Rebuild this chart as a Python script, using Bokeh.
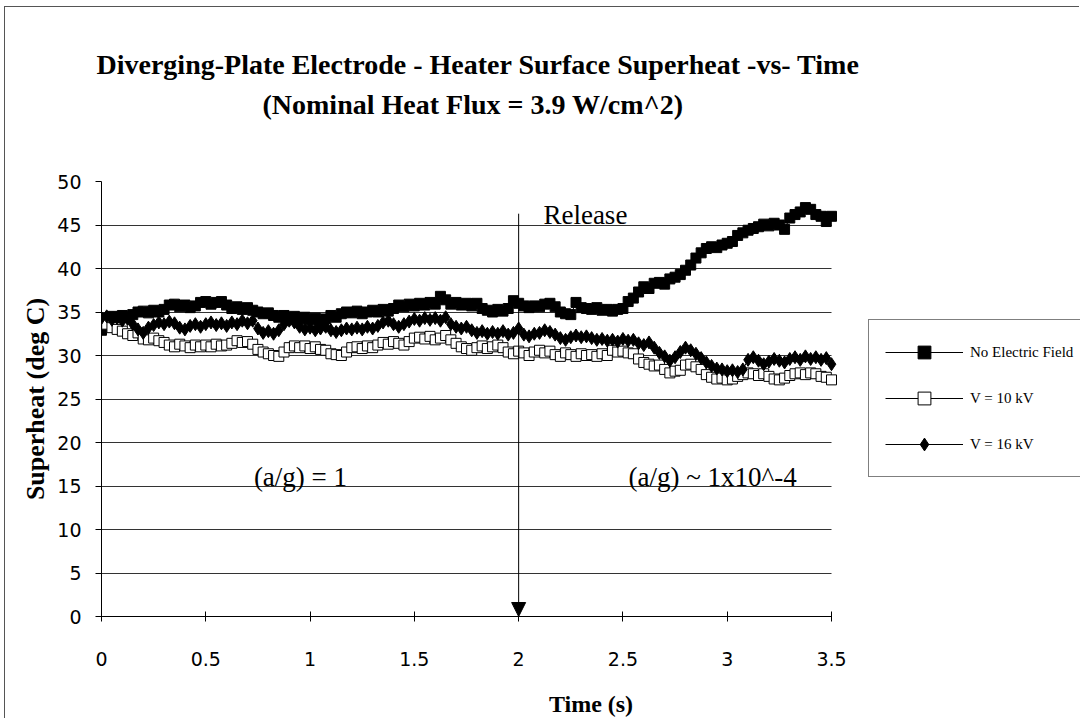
from bokeh.plotting import figure
from bokeh.models import Legend, LegendItem, Label, Title, Arrow, NormalHead, FixedTicker, Range1d
from bokeh.embed import file_html
from bokeh.resources import INLINE

# ---------------- data ----------------
title_line1 = "Diverging-Plate Electrode - Heater Surface Superheat -vs- Time"
title_line2 = "(Nominal Heat Flux = 3.9 W/cm^2)"
x_label = "Time (s)"
y_label = "Superheat (deg C)"
series_names = ["No Electric Field", "V = 10 kV", "V = 16 kV"]
time_step = 0.025

no_field = [
    32.9, 34.3, 34.5, 34.4, 34.6, 34.4, 34.7, 35.0, 35.1, 34.9,
    35.2, 35.0, 35.3, 35.8, 35.9, 35.6, 35.8, 35.5, 35.7, 36.1,
    36.2, 35.9, 36.1, 36.2, 35.8, 35.4, 35.6, 35.3, 35.5, 35.2,
    35.0, 34.8, 34.9, 34.6, 34.4, 34.6, 34.3, 34.5, 34.2, 34.4,
    34.1, 34.3, 33.9, 34.2, 34.6, 34.4, 34.8, 35.0, 34.9, 35.1,
    34.8, 35.0, 35.2, 35.0, 35.3, 35.1, 35.4, 35.8, 35.6, 35.9,
    35.7, 36.0, 35.8, 36.1, 35.9, 36.8, 36.4, 35.9, 36.1, 35.8,
    36.0, 35.7, 36.0, 35.4, 35.2, 35.0, 35.3, 35.1, 35.4, 36.3,
    36.0, 35.7, 35.5, 35.7, 35.6, 35.9, 36.0, 35.6, 35.0, 34.8,
    34.7, 36.1, 35.5, 35.4, 35.3, 35.5, 35.2, 35.3, 35.1, 35.3,
    35.4, 36.2, 36.6, 37.3, 37.9, 37.7, 38.3, 38.4, 38.2, 38.8,
    39.0, 39.3, 39.8, 40.4, 41.2, 41.8, 42.3, 42.5, 42.4, 42.7,
    42.9, 43.1, 43.8, 44.1, 44.4, 44.6, 44.8, 45.1, 44.9, 45.2,
    45.0, 44.5, 45.8, 46.2, 46.5, 47.0, 46.8, 46.2, 46.0, 45.4,
    46.0,
]

v10 = [
    34.0, 33.6, 33.2, 33.0, 32.8, 32.5, 32.3, 32.6, 31.9, 31.8,
    32.0, 31.7, 31.5, 31.2, 31.0, 31.3, 31.1, 30.9, 31.2, 31.0,
    31.2, 31.0, 31.3, 31.1, 31.2, 31.4, 31.7, 31.5, 31.6, 31.3,
    30.7, 30.4, 30.2, 30.0, 29.9, 30.4, 30.9, 31.1, 30.9, 31.1,
    30.8, 31.0, 30.7, 30.6, 30.2, 30.1, 30.0, 30.4, 30.9, 31.0,
    30.8, 31.1, 30.9, 31.2, 31.5, 31.3, 31.6, 31.4, 31.2, 31.6,
    32.0, 32.1, 31.9, 32.2, 31.8, 32.0, 32.3, 31.8, 31.4, 31.0,
    30.8, 30.6, 30.9, 31.1, 30.8, 31.0, 31.2, 30.9, 30.4, 30.2,
    30.5, 30.3, 30.0, 30.4, 30.6, 30.3, 30.5, 30.1, 29.9, 30.3,
    30.1, 29.9, 30.2, 30.0, 30.1, 29.9, 30.2, 30.0, 30.6, 30.4,
    30.5, 30.3, 30.2, 29.6, 29.2, 29.0, 28.8, 28.9, 28.4, 28.0,
    28.2, 28.3, 28.9, 29.0, 28.7, 28.4, 27.8, 27.5, 27.3, 27.4,
    27.2, 27.3, 27.6, 27.8, 28.0, 27.9, 27.7, 27.9, 27.6, 27.3,
    27.2, 27.4, 27.7, 27.9, 28.0, 27.8, 28.0, 27.9, 27.6, 27.5,
    27.2,
]

v16 = [
    34.3, 34.5, 34.1, 34.3, 34.0, 34.2, 33.6, 33.0, 32.6, 33.2,
    33.5, 33.8, 33.6, 33.9, 33.7, 33.2, 33.0, 33.4, 33.6, 33.3,
    33.6, 33.8, 33.5, 33.7, 33.4, 33.8, 33.6, 34.0, 33.7, 34.0,
    33.1, 32.6, 32.8, 32.5, 32.9, 33.6, 34.0, 33.8, 33.3, 33.0,
    33.2, 32.9, 33.1, 33.3, 32.9, 32.7, 32.9, 33.1, 33.0, 33.2,
    33.0, 33.3, 33.1, 33.4, 33.8, 34.0, 33.6, 33.3, 33.6, 33.9,
    34.2, 34.0, 34.3, 34.1, 34.3, 34.0, 34.4, 33.6, 33.3, 33.1,
    33.3, 32.9, 32.6, 32.8, 32.5, 32.7, 32.5, 32.8, 32.4, 32.6,
    33.1, 32.4, 32.2, 32.5, 32.6, 32.9, 32.7, 32.4, 32.0, 31.8,
    32.1, 32.3, 32.1, 32.2, 32.0, 31.8, 31.9, 31.7, 31.8, 31.6,
    31.9, 31.7, 31.8, 31.4, 31.2, 31.5, 30.9, 30.3, 29.9, 29.4,
    29.8, 30.4, 30.9, 30.6, 30.2, 29.7, 29.2, 28.8, 28.5, 28.4,
    28.2, 28.3, 28.1, 28.4, 29.5, 29.8, 29.4, 29.0, 29.3, 29.6,
    29.4, 29.2, 29.6, 29.8, 29.5, 29.9, 29.6, 29.8, 29.5, 29.7,
    29.0,
]

x_ticks = [0, 0.5, 1, 1.5, 2, 2.5, 3, 3.5]
x_tick_labels = ["0", "0.5", "1", "1.5", "2", "2.5", "3", "3.5"]
y_ticks = [0, 5, 10, 15, 20, 25, 30, 35, 40, 45, 50]
x_axis_max = 3.5
y_axis_max = 50

release_time = 2.0
release_arrow_top = 46.3
notes = [
    ("Release", 2.32, 46.2),
    ("(a/g) = 1", 0.954, 16.0),
    ("(a/g) ~ 1x10^-4", 2.93, 16.0),
]

times = [round(i * time_step, 3) for i in range(len(no_field))]

# ---------------- layout (pixels) ----------------
W, H = 1075, 712
LEFT, TOP, BOTTOM = 96, 174, 103
AXIS_PX = 730                 # pixel length of the 0..3.5 time axis
FRAME_W = W - LEFT            # frame spans to the right edge (legend lives in it)
x_view_max = x_axis_max * FRAME_W / AXIS_PX

SERIF = "Liberation Serif"
SANS = "DejaVu Sans"

p = figure(
    width=W, height=H,
    x_range=Range1d(0, x_view_max), y_range=Range1d(0, y_axis_max),
    output_backend="svg", toolbar_location=None,
    min_border_left=LEFT, min_border_right=0,
    min_border_top=TOP, min_border_bottom=BOTTOM,
    margin=(6, 0, 0, 4),
    background_fill_color="white", border_fill_color="white",
    styles={"border-left": "1px solid #555", "border-top": "1px solid #555"},
)
p.outline_line_color = None

# titles: a spacer next to the plot, then line 2, then line 1 above it
p.add_layout(Title(text=" ", text_font_size="1px", standoff=59), "above")
p.add_layout(Title(text=title_line2, align="left", offset=161, text_font=SERIF,
                   text_font_size="28px", text_font_style="bold",
                   text_color="black", standoff=0), "above")
p.add_layout(Title(text=title_line1, align="left", offset=-5, text_font=SERIF,
                   text_font_size="28px", text_font_style="bold",
                   text_color="black", standoff=14), "above")

# axes
p.xaxis.ticker = FixedTicker(ticks=x_ticks)
p.xaxis.major_label_overrides = {t: l for t, l in zip(x_ticks, x_tick_labels)}
p.xaxis.bounds = (0, x_axis_max)
p.yaxis.ticker = FixedTicker(ticks=y_ticks)
p.xaxis.minor_tick_line_color = None
p.yaxis.minor_tick_line_color = None
p.xaxis.major_tick_in = 5
p.xaxis.major_tick_out = 5
p.yaxis.major_tick_in = 0
p.yaxis.major_tick_out = 6
for ax in (p.xaxis, p.yaxis):
    ax.axis_line_color = "black"
    ax.major_tick_line_color = "black"
    ax.major_label_text_font = SANS
    ax.major_label_text_font_size = "19px"
    ax.major_label_text_color = "black"
    ax.axis_label_text_font = SERIF
    ax.axis_label_text_font_style = "bold"
    ax.axis_label_text_color = "black"
p.xaxis.axis_label_text_font_size = "24px"
p.yaxis.axis_label_text_font_size = "26px"
p.xaxis.major_label_standoff = 30
p.yaxis.major_label_standoff = 14
p.xaxis.axis_label = x_label
p.yaxis.axis_label = y_label
p.xaxis.axis_label_standoff = 22
p.yaxis.axis_label_standoff = 4

p.xgrid.grid_line_color = None
p.ygrid.grid_line_color = "#333333"
p.ygrid.grid_line_width = 1
for g in p.ygrid:
    if "cross_bounds" in g.properties():
        g.cross_bounds = (0, x_axis_max)

# series
l1 = p.line(times, no_field, line_color="black", line_width=1)
s1 = p.scatter(times, no_field, marker="square", size=10,
               fill_color="black", line_color="black")
l2 = p.line(times, v10, line_color="black", line_width=1)
s2 = p.scatter(times, v10, marker="square", size=10,
               fill_color="white", line_color="black", line_width=1)
l3 = p.line(times, v16, line_color="black", line_width=1)
s3 = p.scatter(times, v16, marker="diamond", size=13,
               fill_color="black", line_color="black")

# release arrow
p.add_layout(Arrow(end=NormalHead(size=14, fill_color="black", line_color="black"),
                   x_start=release_time, y_start=release_arrow_top,
                   x_end=release_time, y_end=0,
                   line_color="black", line_width=1))

for txt, x, y in notes:
    p.add_layout(Label(x=x, y=y, text=txt, text_align="center",
                       text_baseline="alphabetic", text_font=SERIF,
                       text_font_size="27px", text_color="black"))

legend = Legend(
    items=[
        LegendItem(label=series_names[0], renderers=[l1, s1]),
        LegendItem(label=series_names[1], renderers=[l2, s2]),
        LegendItem(label=series_names[2], renderers=[l3, s3]),
    ],
    location=(AXIS_PX + 37, 139),
    glyph_width=78, glyph_height=32, label_height=32,
    label_standoff=7, spacing=14, padding=16,
    label_text_font=SERIF, label_text_font_size="15px",
    label_text_color="black",
    border_line_color="black", border_line_width=1,
    background_fill_color="white", background_fill_alpha=1,
)
p.add_layout(legend)

open("out.html", "w").write(file_html(p, INLINE))
